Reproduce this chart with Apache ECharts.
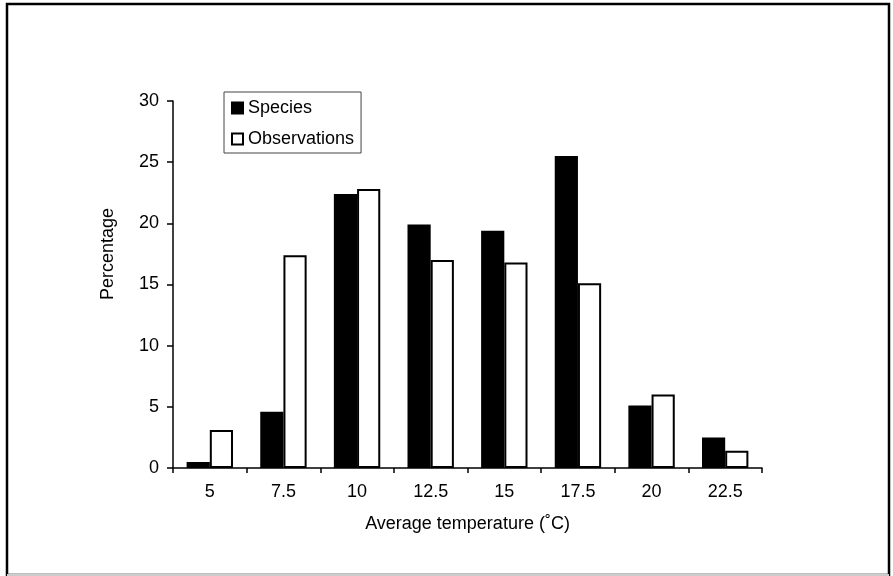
<!DOCTYPE html>
<html>
<head>
<meta charset="utf-8">
<script src="https://cdn.jsdelivr.net/npm/echarts@6/dist/echarts.min.js"></script>
<style>
html, body { margin: 0; padding: 0; background: #fff; }
#container { width: 893px; height: 576px; }
</style>
</head>
<body>
<div id="container"></div>
<script>
var categories = ['5', '7.5', '10', '12.5', '15', '17.5', '20', '22.5'];
var species = [0.5, 4.6, 22.4, 19.9, 19.4, 25.5, 5.1, 2.5];
var observations = [3.1, 17.4, 22.8, 17.0, 16.8, 15.1, 6.0, 1.4];
var yTicks = [0, 5, 10, 15, 20, 25, 30];

var dom = document.getElementById("container");
var myChart = echarts.init(dom);
var font = 'Liberation Sans, Arial, sans-serif';

var option = {
    backgroundColor: '#fff',
    animation: false,
    textStyle: { fontFamily: font, color: '#000' },
    grid: {
        left: 173,
        right: 131,
        top: 101,
        bottom: 108
    },
    legend: {
        orient: 'vertical',
        left: 224,
        top: 92,
        borderColor: '#444',
        borderWidth: 1,
        padding: [7, 7, 5, 7],
        itemGap: 13,
        itemWidth: 11,
        itemHeight: 11,
        itemTextGap: 6,
        icon: 'rect',
        textStyle: { fontFamily: font, fontSize: 18, color: '#000' },
        data: ['Species', 'Observations']
    },
    xAxis: {
        type: 'category',
        data: categories,
        name: 'Average temperature (˚C)',
        nameLocation: 'middle',
        nameGap: 47,
        nameTextStyle: { fontFamily: font, fontSize: 18, color: '#000' },
        axisLine: { lineStyle: { color: '#000', width: 1.5 } },
        axisTick: { show: true, length: 5, inside: false, lineStyle: { color: '#000', width: 1.5 } },
        axisLabel: { fontFamily: font, fontSize: 18, color: '#000', margin: 15 },
        splitLine: { show: false }
    },
    yAxis: {
        type: 'value',
        min: yTicks[0],
        max: yTicks[yTicks.length - 1],
        interval: 5,
        axisLine: { show: true, lineStyle: { color: '#000', width: 1.5 } },
        axisTick: { show: true, length: 6, lineStyle: { color: '#000', width: 1.5 } },
        axisLabel: { fontFamily: font, fontSize: 18, color: '#000', margin: 14 },
        splitLine: { show: false }
    },
    graphic: [
        {
            type: 'rect',
            shape: { x: 7, y: 4, width: 882, height: 571 },
            style: { fill: null, stroke: '#000', lineWidth: 2.5 },
            silent: true
        },
        {
            type: 'line',
            shape: { x1: 7, y1: 575, x2: 889, y2: 575 },
            style: { stroke: '#ccc', lineWidth: 2 },
            silent: true
        },
        {
            type: 'text',
            x: 108,
            y: 254,
            rotation: Math.PI / 2,
            style: {
                text: 'Percentage',
                fontFamily: font,
                fontSize: 18,
                fill: '#000',
                align: 'center',
                verticalAlign: 'middle'
            }
        }
    ],
    series: [
        {
            name: 'Species',
            type: 'bar',
            data: species,
            barGap: '0%',
            barCategoryGap: '37%',
            itemStyle: { color: '#000', borderColor: '#000', borderWidth: 2 }
        },
        {
            name: 'Observations',
            type: 'bar',
            data: observations,
            barGap: '0%',
            barCategoryGap: '37%',
            itemStyle: { color: '#fff', borderColor: '#000', borderWidth: 2 }
        }
    ]
};

if (option && typeof option === "object") {
    myChart.setOption(option, true);
}
</script>
</body>
</html>
